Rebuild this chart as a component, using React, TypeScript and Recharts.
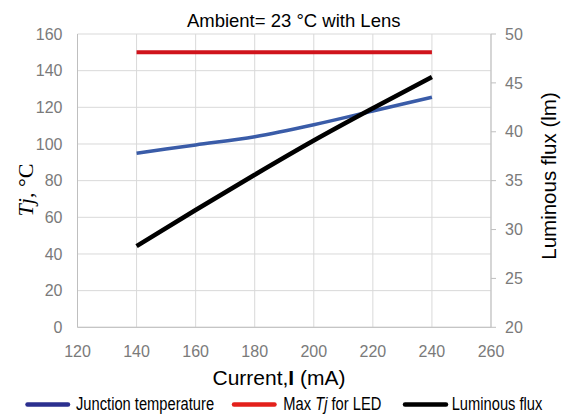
import React from 'react'
import { LineChart, Line, XAxis, YAxis, CartesianGrid } from 'recharts'

// values
const currents = [140, 160, 180, 200, 220, 240]
const junctionTemp = [95, 99.5, 104, 110.5, 118, 125.5]
const maxTj = [150, 150, 150, 150, 150, 150]
const luminousFlux = [28.3, 32.0, 35.6, 39.1, 42.4, 45.6]

const xTicks = [120, 140, 160, 180, 200, 220, 240, 260]
const leftTicks = [0, 20, 40, 60, 80, 100, 120, 140, 160]
const rightTicks = [20, 25, 30, 35, 40, 45, 50]

const data = currents.map((c, i) => ({
  current: c,
  junctionTemp: junctionTemp[i],
  maxTj: maxTj[i],
  luminousFlux: luminousFlux[i],
}))

const sans = "'Liberation Sans', Arial, sans-serif"
const serif = "'Liberation Serif', 'Times New Roman', serif"
const tickStyle = { fill: '#7a7a7a', fontSize: 16, fontFamily: sans }
const axisColor = '#bfbfbf'

// legend text is a condensed face in the reference, so squeeze it horizontally
const LegendText = ({ x, children }: { x: number; children: React.ReactNode }) => (
  <text
    transform={`translate(${x}, 410) scale(0.84, 1)`}
    fontSize={17.5}
    fontFamily={sans}
    fill="#000"
  >
    {children}
  </text>
)

const Overlay = () => (
  <svg
    width={562}
    height={416}
    style={{ position: 'absolute', left: 0, top: 0, pointerEvents: 'none' }}
  >
    <text x={293.7} y={26.7} textAnchor="middle" fontSize={18.5} fontFamily={sans} fill="#000">
      Ambient= 23 °C with Lens
    </text>
    <text x={279} y={385} textAnchor="middle" fontSize={21} fontFamily={sans} fill="#000">
      Current,<tspan fontWeight="bold">I</tspan> (mA)
    </text>
    <text
      x={33}
      y={190}
      textAnchor="middle"
      fontSize={22}
      fontFamily={serif}
      fill="#000"
      transform="rotate(-90, 33, 190)"
    >
      <tspan fontStyle="italic">Tj</tspan>, °C
    </text>
    <text
      x={556}
      y={176}
      textAnchor="middle"
      fontSize={20.5}
      fontFamily={sans}
      fill="#000"
      transform="rotate(-90, 556, 176)"
    >
      Luminous flux (lm)
    </text>

    {/* legend */}
    <line x1={27.5} y1={404.5} x2={68} y2={404.5} stroke="#2b2f8f" strokeWidth={4.5} strokeLinecap="round" />
    <LegendText x={76}>Junction temperature</LegendText>
    <line x1={234} y1={404.5} x2={274.5} y2={404.5} stroke="#e3201b" strokeWidth={4.5} strokeLinecap="round" />
    <LegendText x={283.3}>
      Max <tspan fontStyle="italic">Tj</tspan> for LED
    </LegendText>
    <line x1={405} y1={404.5} x2={446} y2={404.5} stroke="#000" strokeWidth={4.5} strokeLinecap="round" />
    <LegendText x={451.7}>Luminous flux</LegendText>
  </svg>
)

export default function App() {
  return (
    <div style={{ position: 'absolute', left: 0, top: 0, width: 562, height: 416, background: '#fff' }}>
      <LineChart width={562} height={416} data={data} margin={{ top: 34, right: 0, left: 0, bottom: 0 }}>
        <CartesianGrid yAxisId="left" stroke="#d9d9d9" />
        <XAxis
          type="number"
          dataKey="current"
          domain={[120, 260]}
          ticks={xTicks}
          interval={0}
          tickLine={false}
          axisLine={{ stroke: axisColor }}
          tick={tickStyle}
          tickMargin={12}
          height={88.7}
        />
        <YAxis
          yAxisId="left"
          domain={[0, 160]}
          ticks={leftTicks}
          interval={0}
          tickLine={false}
          axisLine={{ stroke: axisColor }}
          tick={tickStyle}
          tickMargin={9}
          width={77.5}
        />
        <YAxis
          yAxisId="right"
          orientation="right"
          domain={[20, 50]}
          ticks={rightTicks}
          interval={0}
          tickLine={{ stroke: axisColor }}
          tickSize={5}
          axisLine={{ stroke: axisColor }}
          tick={tickStyle}
          tickMargin={9}
          width={71}
        />
        <Line
          yAxisId="left"
          dataKey="maxTj"
          stroke="#d0141c"
          strokeWidth={4}
          dot={false}
          isAnimationActive={false}
        />
        <Line
          yAxisId="left"
          type="monotone"
          dataKey="junctionTemp"
          stroke="#3a5ca8"
          strokeWidth={3.5}
          dot={false}
          isAnimationActive={false}
        />
        <Line
          yAxisId="right"
          type="monotone"
          dataKey="luminousFlux"
          stroke="#000"
          strokeWidth={4.5}
          dot={false}
          isAnimationActive={false}
        />
      </LineChart>
      <Overlay />
    </div>
  )
}
